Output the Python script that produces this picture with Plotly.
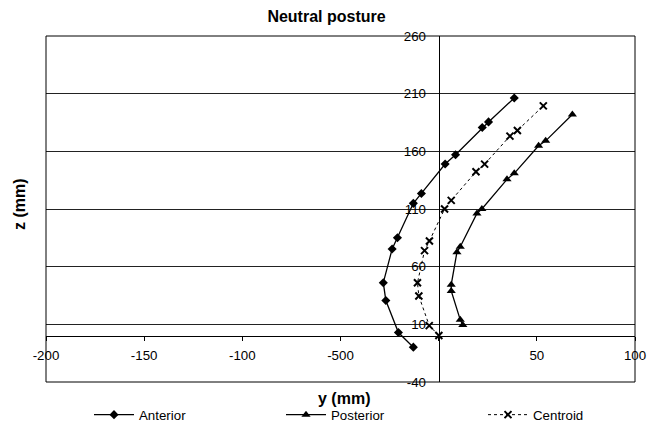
import plotly.graph_objects as go

# Data (y = horizontal, z = vertical, mm)
anterior_y = [-12.9, -20.5, -26.9, -28.2, -23.7, -21.0, -12.9, -8.8, 3.3, 8.6, 22.2, 25.4, 38.5]
anterior_z = [-9.8, 2.9, 30.6, 46.1, 75.3, 85.1, 114.9, 123.5, 149.0, 157.0, 180.7, 185.5, 206.3]

posterior_y = [12.3, 11.0, 6.4, 6.4, 9.3, 11.0, 19.5, 22.0, 34.8, 38.5, 50.9, 54.5, 68.1]
posterior_z = [9.5, 13.9, 39.0, 44.4, 72.5, 77.3, 106.2, 110.0, 135.7, 140.9, 164.8, 169.1, 191.9]

centroid_y = [0.1, -4.8, -10.1, -10.8, -7.2, -4.7, 3.0, 6.4, 19.0, 23.4, 36.3, 40.1, 53.3]
centroid_z = [0.3, 8.9, 34.6, 46.1, 73.9, 82.3, 110.0, 117.5, 142.3, 148.9, 173.2, 178.1, 199.4]

x_tickvals = [-200, -150, -100, -50, 0, 50, 100]
x_ticktext = ["-200", "-150", "-100", "-500", "", "50", "100"]
y_tickvals = [-40, 10, 60, 110, 160, 210, 260]
y_ticktext = ["-40", "10", "60", "110", "160", "210", "260"]

FONT = "Liberation Sans, Arial, sans-serif"
BLACK = "black"
SMALL = 13.3
BIG = 16

fig = go.Figure()
fig.add_trace(go.Scatter(
    x=anterior_y, y=anterior_z, name="Anterior", mode="lines+markers",
    line=dict(color=BLACK, width=1.3), legend="legend",
    marker=dict(symbol="diamond", size=7, color=BLACK)))
fig.add_trace(go.Scatter(
    x=posterior_y, y=posterior_z, name="Posterior", mode="lines+markers",
    line=dict(color=BLACK, width=1.3), legend="legend2",
    marker=dict(symbol="triangle-up", size=8, color=BLACK)))
fig.add_trace(go.Scatter(
    x=centroid_y, y=centroid_z, name="Centroid", mode="lines+markers",
    line=dict(color=BLACK, width=1, dash="dot"), legend="legend3",
    marker=dict(symbol="x-thin-open", size=7, color=BLACK,
                line=dict(width=2, color=BLACK))))

xmin, xmax = -200, 100
ymin, ymax = -40, 260


def leg(xpx):
    return dict(orientation="h", xref="container", yref="container",
                x=xpx / 653, xanchor="left", y=1 - 415 / 423, yanchor="middle",
                itemwidth=40, font=dict(size=SMALL, color=BLACK, family=FONT),
                bgcolor="rgba(0,0,0,0)")


fig.update_layout(
    template="none",
    width=653, height=423,
    margin=dict(l=46, r=18, t=36, b=41, autoexpand=False),
    paper_bgcolor="white", plot_bgcolor="white",
    font=dict(family=FONT, size=SMALL, color=BLACK),
    title=dict(text="<b>Neutral posture</b>", x=0.5, xref="container",
               xanchor="center", y=1 - 16 / 423, yanchor="middle",
               font=dict(size=BIG, color=BLACK, family=FONT)),
    showlegend=True,
    legend=leg(89), legend2=leg(281), legend3=leg(483),
    xaxis=dict(range=[xmin, xmax], tickvals=x_tickvals, ticktext=x_ticktext,
               anchor="free", position=(0 - ymin) / (ymax - ymin),
               showgrid=False, zeroline=False, showline=True, linecolor=BLACK,
               linewidth=1, ticks="outside", ticklen=4, tickcolor=BLACK,
               ticklabelstandoff=3, automargin=False,
               tickfont=dict(size=SMALL, color=BLACK, family=FONT)),
    yaxis=dict(range=[ymin, ymax], tickvals=y_tickvals, ticktext=y_ticktext,
               anchor="free", position=(0 - xmin) / (xmax - xmin),
               showgrid=True, gridcolor="#222", gridwidth=1,
               zeroline=False, showline=True, linecolor=BLACK, linewidth=1,
               ticks="", ticklabelstandoff=10, automargin=False,
               tickfont=dict(size=SMALL, color=BLACK, family=FONT)),
    shapes=[dict(type="rect", xref="paper", yref="paper", x0=0, y0=0, x1=1, y1=1,
                 line=dict(color=BLACK, width=1))],
    annotations=[
        dict(text="<b>y (mm)</b>", xref="paper", yref="paper", x=(344 - 46) / 589,
             y=-(398 - 382) / 346, showarrow=False,
             font=dict(size=BIG, color=BLACK, family=FONT), yanchor="middle"),
        dict(text="<b>z (mm)</b>", xref="paper", yref="paper", x=-(46 - 19) / 589,
             y=(382 - 204) / 346, showarrow=False,
             font=dict(size=BIG, color=BLACK, family=FONT),
             textangle=-90, xanchor="center", yanchor="middle"),
    ],
)

fig.write_html("out.html")
